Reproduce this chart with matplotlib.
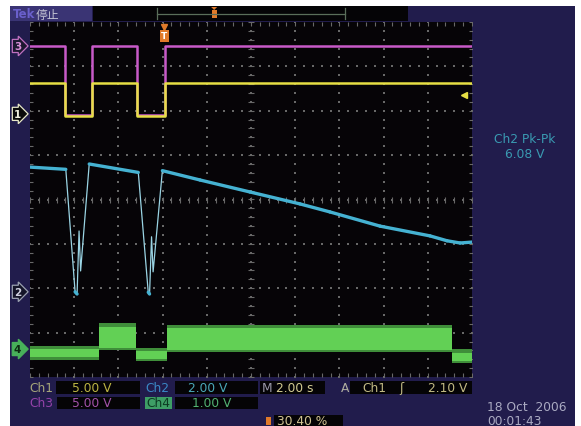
import numpy as np
import matplotlib
matplotlib.use("Agg")
from matplotlib import pyplot as plt
from matplotlib.patches import Rectangle, Polygon

# scope settings: 2 s/div, 10 div across, 8 div high
sec_per_div = 2.0
n_xdiv = 10
n_ydiv = 8
trig_pct = 30.40

# traces, time in s, level in screen divisions (0 = centre line)
ch1_t = [0.0, 1.58, 2.79, 4.86, 6.11, 20.0]
ch1_v = [2.63, 1.88, 2.63, 1.88, 2.63, 2.63]

ch3_t = [0.0, 1.58, 2.79, 4.86, 6.11, 20.0]
ch3_v = [3.45, 1.90, 3.45, 1.90, 3.45, 3.45]

ch2_t = [0.00, 1.62, 2.04, 2.13, 2.22, 2.29, 2.68, 4.90, 5.35, 5.41, 5.50, 5.57,
         5.99, 7.69, 9.95, 12.22, 13.57, 15.84, 18.10, 18.87, 19.46, 20.0]
ch2_v = [0.73, 0.68, -2.08, -2.13, -0.71, -1.61, 0.80, 0.61, -2.09, -2.13, -0.84, -1.63,
         0.65, 0.44, 0.17, -0.10, -0.28, -0.60, -0.82, -0.93, -0.98, -0.96]

ch4_t = [0.0, 3.12, 4.80, 6.20, 19.10, 20.0]
ch4_top = [-3.38, -2.87, -3.42, -2.90, -3.45, -3.45]
ch4_bot = [-3.56, -3.35, -3.60, -3.39, -3.64, -3.64]

# ground markers on the left edge
gnd_names = ["3", "1", "2", "4"]
gnd_levels = [3.46, 1.93, -2.08, -3.37]

trig_level_div = 1.93 + 2.10 / 5.0

YEL = "#e6df45"
MAG = "#c85ac8"
CYA = "#45b2d2"
GRN = "#62d055"
NAVY = "#211c4c"
GRID = "#686868"

fig = plt.figure(figsize=(5.81, 4.27), dpi=100)
fig.patch.set_facecolor("white")

# overlay in pixel coords for the instrument frame and read-outs
ov = fig.add_axes([0, 0, 1, 1])
ov.set_xlim(0, 581)
ov.set_ylim(427, 0)
ov.axis("off")

ov.add_patch(Rectangle((10, 7), 565, 420, fc=NAVY, ec="none"))
ov.add_patch(Rectangle((10, 7), 82, 15, fc="#3a3474", ec="none"))
ov.text(13, 15, "Tek", color="#6a60cc", fontsize=8.5, va="center", fontweight="bold")
ov.text(36, 15, "停止", color="#c4c4d4", fontsize=8.5, va="center",
        family=["DejaVu Sans", "Noto Sans CJK SC"])
ov.add_patch(Rectangle((93, 7), 315, 15, fc="#050406", ec="none"))
ov.plot([157, 345], [15, 15], color="#5a6e5a", lw=0.9)
ov.plot([157, 157], [9, 20], color="#5a6e5a", lw=0.9)
ov.plot([345, 345], [9, 20], color="#5a6e5a", lw=0.9)
rec_x = 157 + (345 - 157) * trig_pct / 100
ov.add_patch(Polygon([[rec_x - 3, 8], [rec_x + 3, 8], [rec_x, 11]], fc="#e07a2a", ec="none"))
ov.add_patch(Rectangle((rec_x - 2.5, 11), 5, 8, fc="#e07a2a", ec="none"))

# bottom read-outs
def box(x0, y0, x1, y1, fc="#050406"):
    ov.add_patch(Rectangle((x0, y0), x1 - x0, y1 - y0, fc=fc, ec="none"))

fs = 8.8
box(56, 382, 140, 395)
box(175, 382, 258, 395)
box(260, 382, 325, 395)
box(350, 382, 472, 395)
box(57, 398, 140, 410)
box(145, 398, 172, 410, fc="#3e9e66")
box(175, 398, 258, 410)
box(274, 416, 343, 427)
ov.add_patch(Rectangle((266, 418), 5, 8, fc="#e07a2a", ec="none"))

ov.text(29, 389, "Ch1", color="#a6a67a", fontsize=fs, va="center")
ov.text(72, 389, "5.00 V", color="#bcb443", fontsize=fs, va="center")
ov.text(145, 389, "Ch2", color="#3a88c6", fontsize=fs, va="center")
ov.text(188, 389, "2.00 V", color="#4aa8b8", fontsize=fs, va="center")
ov.text(262, 389, "M", color="#9a98a8", fontsize=fs, va="center")
ov.text(276, 389, "2.00 s", color="#d2ca92", fontsize=fs, va="center")
ov.text(341, 389, "A", color="#b0aea0", fontsize=fs, va="center")
ov.text(362, 389, "Ch1", color="#c2ba84", fontsize=fs, va="center")
ov.text(399, 389, "ʃ", color="#c2ba84", fontsize=fs, va="center")
ov.text(428, 389, "2.10 V", color="#c2ba84", fontsize=fs, va="center")
ov.text(29, 404, "Ch3", color="#9442aa", fontsize=fs, va="center")
ov.text(72, 404, "5.00 V", color="#a452aa", fontsize=fs, va="center")
ov.text(146, 404, "Ch4", color="#0c3a22", fontsize=fs, va="center")
ov.text(192, 404, "1.00 V", color="#52b272", fontsize=fs, va="center")
ov.text(277, 422, "30.40 %", color="#d2c492", fontsize=fs, va="center")
ov.text(487, 408, "18 Oct  2006", color="#aaaac2", fontsize=fs, va="center")
ov.text(487, 422, "00:01:43", color="#aaaac2", fontsize=fs, va="center")
ov.text(525, 140, "Ch2 Pk-Pk", color="#3a9ab2", fontsize=fs, va="center", ha="center")
ov.text(525, 155, "6.08 V", color="#3a9ab2", fontsize=fs, va="center", ha="center")

# the scope screen
ax = fig.add_axes([30 / 581, 49 / 427, 442 / 581, 355 / 427])
ax.set_facecolor("#060407")
t_max = sec_per_div * n_xdiv
ax.set_xlim(0, t_max)
ax.set_ylim(-n_ydiv / 2, n_ydiv / 2)
ax.set_xticks([])
ax.set_yticks([])
for s in ax.spines.values():
    s.set_visible(False)

sub_t = np.arange(0, t_max + 1e-9, sec_per_div / 5)
sub_v = np.arange(-n_ydiv / 2, n_ydiv / 2 + 1e-9, 0.2)
for i in range(1, n_xdiv):
    ax.scatter(np.full(len(sub_v), i * sec_per_div), sub_v, s=1.2, c=GRID, marker="s", lw=0)
for j in range(-n_ydiv // 2 + 1, n_ydiv // 2):
    ax.scatter(sub_t, np.full(len(sub_t), j), s=1.2, c=GRID, marker="s", lw=0)
# centre cross and border ticks
ax.plot(sub_t, np.zeros(len(sub_t)), ls="none", marker="|", ms=4, color=GRID, mew=0.8)
ax.plot(np.full(len(sub_v), t_max / 2), sub_v, ls="none", marker="_", ms=4, color=GRID, mew=0.8)
ax.plot(sub_t, np.full(len(sub_t), -n_ydiv / 2 + 0.04), ls="none", marker="|", ms=3, color=GRID, mew=0.8)
ax.plot(sub_t, np.full(len(sub_t), n_ydiv / 2 - 0.04), ls="none", marker="|", ms=3, color=GRID, mew=0.8)
ax.plot(np.full(len(sub_v), 0.06), sub_v, ls="none", marker="_", ms=3, color=GRID, mew=0.8)
ax.plot(np.full(len(sub_v), t_max - 0.06), sub_v, ls="none", marker="_", ms=3, color=GRID, mew=0.8)

# traces
ax.fill_between(ch4_t, np.array(ch4_bot) - 0.05, np.array(ch4_top) + 0.08,
                step="post", color="#3f8e3a", lw=0, zorder=3)
ax.fill_between(ch4_t, ch4_bot, ch4_top, step="post", color=GRN, lw=0, zorder=3)
ax.step(ch3_t, ch3_v, where="post", color=MAG, lw=1.8, zorder=3)
ax.step(ch1_t, ch1_v, where="post", color=YEL, lw=1.8, zorder=4)

ax.plot(ch2_t, ch2_v, color="#9ad4e4", lw=0.9, zorder=4)
for k in range(len(ch2_t) - 1):
    slope = (ch2_v[k + 1] - ch2_v[k]) / (ch2_t[k + 1] - ch2_t[k])
    if abs(slope) < 1.0:
        ax.plot(ch2_t[k:k + 2], ch2_v[k:k + 2], color=CYA, lw=2.4,
                solid_capstyle="round", zorder=5)

# trigger markers
trig_t = t_max * trig_pct / 100
ax.annotate("T", xy=(trig_t, 1), xycoords=("data", "axes fraction"),
            xytext=(0, -10), textcoords="offset points", ha="center", va="center",
            color="white", fontsize=6.5, fontweight="bold", annotation_clip=False,
            bbox=dict(boxstyle="square,pad=0.15", fc="#e07a2a", ec="none"), zorder=6)
ax.plot([trig_t], [n_ydiv / 2 - 0.12], marker="v", ms=5, color="#e07a2a", clip_on=False, zorder=6)
ax.plot([t_max - 0.35], [trig_level_div], marker="<", ms=4, color=YEL, zorder=6)

# ground markers
mk_style = {
    "3": dict(fc="#1c1830", ec="#c070c0", tc="#d890d8"),
    "1": dict(fc="#0a0a0a", ec="#e8e8c8", tc="#f0f0e0"),
    "2": dict(fc="#141428", ec="#9aa0b0", tc="#d0d0e0"),
    "4": dict(fc="#48b05a", ec="#48b05a", tc="#0c2a10"),
}
for name, lvl in zip(gnd_names, gnd_levels):
    st = mk_style[name]
    ax.annotate(name, xy=(0, lvl), xycoords=("axes fraction", "data"),
                xytext=(-9, 0), textcoords="offset points", ha="center", va="center",
                color=st["tc"], fontsize=7.5, fontweight="bold", annotation_clip=False,
                bbox=dict(boxstyle="rarrow,pad=0.15", fc=st["fc"], ec=st["ec"], lw=0.9))

fig.savefig("out.png", dpi=100)
